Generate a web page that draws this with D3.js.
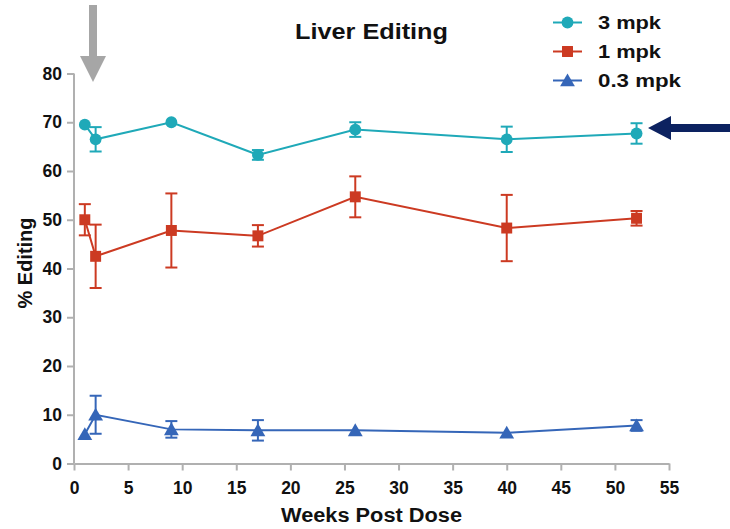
<!DOCTYPE html>
<html><head><meta charset="utf-8">
<script src="https://cdn.jsdelivr.net/npm/d3@7"></script>
<style>body{margin:0;background:#fff}svg{display:block;font-family:"Liberation Sans",Arial,sans-serif}</style>
</head><body>
<svg id="c" width="730" height="529"></svg>
<script>
const weeks = [1, 2, 9, 17, 26, 40, 52];
const seriesNames = ["3 mpk", "1 mpk", "0.3 mpk"];
const mpk3 = [69.5, 66.5, 70.0, 63.3, 68.5, 66.5, 67.7];
const mpk3Err = [0, 2.5, 0, 1.0, 1.5, 2.6, 2.1];
const mpk1 = [50.0, 42.5, 47.8, 46.7, 54.7, 48.3, 50.3];
const mpk1Err = [3.2, 6.5, 7.6, 2.2, 4.2, 6.8, 1.5];
const mpk03 = [6.0, 10.0, 7.0, 6.8, 6.8, 6.3, 7.8];
const mpk03Err = [0, 3.9, 1.7, 2.1, 0, 0, 1.1];
const xTicks = [0,5,10,15,20,25,30,35,40,45,50,55];
const yTicks = [0,10,20,30,40,50,60,70,80];

const colors = ["#1fa9b8", "#cc3a22", "#3566b8"];
const shapes = [d3.symbolCircle, d3.symbolSquare, d3.symbolTriangle];
const sizes = [110, 120, 95];
const series = [
  {name: seriesNames[0], vals: mpk3, err: mpk3Err},
  {name: seriesNames[1], vals: mpk1, err: mpk1Err},
  {name: seriesNames[2], vals: mpk03, err: mpk03Err}
];

const svg = d3.select("#c");
const x = d3.scaleLinear().domain([0,55]).range([74,669]);
const y = d3.scaleLinear().domain([0,80]).range([463.5,73.5]);
const axisColor = "#b0b0b0";

// axes
const xa = svg.append("g").attr("transform","translate(0,463.5)")
  .call(d3.axisBottom(x).tickValues(xTicks).tickSize(7).tickPadding(11).tickSizeOuter(0));
const ya = svg.append("g").attr("transform","translate(74,0)")
  .call(d3.axisLeft(y).tickValues(yTicks).tickSize(7).tickPadding(5).tickSizeOuter(0));
[xa, ya].forEach(a => {
  a.selectAll("path,line").attr("stroke", axisColor).attr("stroke-width", 2);
  a.selectAll("text").attr("font-size", 17.5).attr("font-weight", "bold").attr("fill", "#111")
    .attr("font-family", '"Liberation Sans",Arial,sans-serif');
});
ya.select(".domain").attr("d", `M0,${y(80)}V${y(0)}`);

// series
series.forEach((s, i) => {
  const g = svg.append("g");
  const pts = weeks.map((w, j) => ({w, v: s.vals[j], e: s.err[j]}));
  g.append("path").datum(pts)
    .attr("d", d3.line().x(d => x(d.w)).y(d => y(d.v)))
    .attr("fill","none").attr("stroke", colors[i]).attr("stroke-width", 2);
  pts.filter(d => d.e > 0).forEach(d => {
    const cx = x(d.w), y1 = y(d.v + d.e), y2 = y(d.v - d.e);
    g.append("line").attr("x1",cx).attr("x2",cx).attr("y1",y1).attr("y2",y2).attr("stroke",colors[i]).attr("stroke-width",2);
    [y1,y2].forEach(yy => g.append("line").attr("x1",cx-6).attr("x2",cx+6).attr("y1",yy).attr("y2",yy).attr("stroke",colors[i]).attr("stroke-width",2));
  });
  g.selectAll(".m").data(pts).enter().append("path")
    .attr("transform", d => `translate(${x(d.w)},${y(d.v) + (i===2?1.5:0)})`)
    .attr("d", d3.symbol().type(shapes[i]).size(sizes[i]))
    .attr("fill", colors[i]);
});

// title
svg.append("text").attr("x",371.5).attr("y",38.5).attr("text-anchor","middle")
  .attr("font-size",22).attr("font-weight","bold").attr("fill","#111")
  .attr("textLength",153).attr("lengthAdjust","spacingAndGlyphs").text("Liver Editing");

// legend
const legendLens = [63, 63, 83];
series.forEach((s, i) => {
  const ly = 22.5 + i*29;
  svg.append("line").attr("x1",553).attr("x2",582).attr("y1",ly).attr("y2",ly).attr("stroke",colors[i]).attr("stroke-width",2);
  svg.append("path").attr("transform",`translate(567.5,${ly + (i===2?1.5:0)})`)
    .attr("d", d3.symbol().type(shapes[i]).size(sizes[i])).attr("fill",colors[i]);
  svg.append("text").attr("x",598).attr("y",ly+6.5).attr("font-size",19).attr("font-weight","bold").attr("fill","#111")
    .attr("textLength",legendLens[i]).attr("lengthAdjust","spacingAndGlyphs").text(s.name);
});

// axis titles
svg.append("text").attr("x",371.5).attr("y",522).attr("text-anchor","middle")
  .attr("font-size",19.5).attr("font-weight","bold").attr("fill","#111")
  .attr("textLength",181).attr("lengthAdjust","spacingAndGlyphs").text("Weeks Post Dose");
svg.append("text").attr("transform","translate(31.5,263) rotate(-90)").attr("text-anchor","middle")
  .attr("font-size",20).attr("font-weight","bold").attr("fill","#111").text("% Editing");

// annotation arrows
svg.append("path").attr("d","M89,5H97V56H106L93,82L80,56H89Z").attr("fill","#a6a6a6");
svg.append("path").attr("d","M730,124V132H671V140L648,128L671,116V124Z").attr("fill","#0c2260");
</script>
</body></html>
